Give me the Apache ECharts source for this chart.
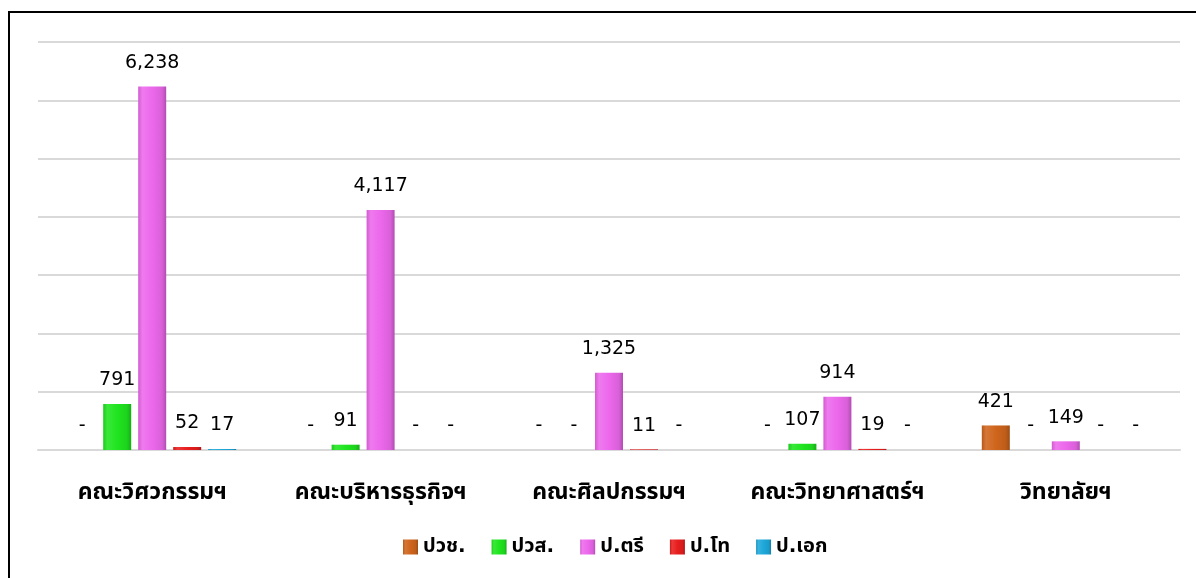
<!DOCTYPE html>
<html>
<head>
<meta charset="utf-8">
<script src="https://cdn.jsdelivr.net/npm/echarts@6/dist/echarts.min.js"></script>
<style>
  html, body { margin: 0; padding: 0; background: #fff; }
  #frame {
    position: absolute; left: 8px; top: 11px; width: 1200px; height: 580px;
    border-top: 2px solid #000; border-left: 2px solid #000;
  }
  #chart { position: absolute; left: 0; top: 0; width: 1196px; height: 578px; }
</style>
</head>
<body>
<div id="frame"></div>
<div id="chart"></div>
<script>
// หมวดหมู่ (คณะ)
const categories = ['คณะวิศวกรรมฯ', 'คณะบริหารธุรกิจฯ', 'คณะศิลปกรรมฯ', 'คณะวิทยาศาสตร์ฯ', 'วิทยาลัยฯ']
// ระดับการศึกษา
const levels = ['ปวช.', 'ปวส.', 'ป.ตรี', 'ป.โท', 'ป.เอก']
const vocCert = [0, 0, 0, 0, 421]
const highVoc = [791, 91, 0, 107, 0]
const bachelor = [6238, 4117, 1325, 914, 149]
const master = [52, 0, 11, 19, 0]
const doctoral = [17, 0, 0, 0, 0]
const seriesValues = [vocCert, highVoc, bachelor, master, doctoral]
const colors = ['#CF651C', '#1FE51F', '#EC68EC', '#E81E1E', '#1EA8DA']

const FONT = 'Tahoma, "DejaVu Sans", "Noto Sans Thai", "Noto Sans", sans-serif'

function shade (hex, f) {
  const n = parseInt(hex.slice(1), 16)
  let r = (n >> 16) & 255, g = (n >> 8) & 255, b = n & 255
  const t = f < 0 ? 0 : 255
  const p = Math.abs(f)
  r = Math.round((t - r) * p + r)
  g = Math.round((t - g) * p + g)
  b = Math.round((t - b) * p + b)
  return 'rgb(' + r + ',' + g + ',' + b + ')'
}

function bevel (c) {
  return new echarts.graphic.LinearGradient(0, 0, 1, 0, [
    { offset: 0, color: shade(c, -0.12) },
    { offset: 0.15, color: shade(c, 0.12) },
    { offset: 0.5, color: c },
    { offset: 0.85, color: shade(c, -0.08) },
    { offset: 1, color: shade(c, -0.25) }
  ])
}

const chartInstance = echarts.init(document.getElementById('chart'))
const option = {
  animation: false,
  color: colors,
  textStyle: { fontFamily: FONT },
  grid: { left: 38, right: 16, top: 42, bottom: 128 },
  legend: {
    bottom: 16,
    left: 398,
    icon: 'rect',
    itemWidth: 15,
    itemHeight: 15,
    itemGap: 26,
    textStyle: { fontSize: 20, fontWeight: 'bold', color: '#000', fontFamily: FONT },
    data: levels.map((name, i) => ({ name: name, itemStyle: { color: bevel(colors[i]) } }))
  },
  xAxis: {
    type: 'category',
    data: categories,
    axisTick: { show: false },
    axisLine: { lineStyle: { color: '#d9d9d9', width: 2 } },
    axisLabel: { margin: 32, fontSize: 23, fontWeight: 'bold', color: '#000', fontFamily: FONT }
  },
  yAxis: {
    type: 'value',
    min: 0,
    max: 7000,
    interval: 1000,
    axisLabel: { show: false },
    axisLine: { show: false },
    axisTick: { show: false },
    splitLine: { lineStyle: { color: '#d9d9d9', width: 2 } }
  },
  series: levels.map((name, i) => ({
    name: name,
    type: 'bar',
    data: seriesValues[i],
    barWidth: 28,
    barGap: '25%',
    itemStyle: { color: bevel(colors[i]) },
    label: {
      show: true,
      position: 'top',
      distance: 14,
      fontSize: 19,
      color: '#000',
      fontFamily: FONT,
      formatter: p => (p.value === 0 ? '-' : p.value.toLocaleString('en-US'))
    }
  }))
}
chartInstance.setOption(option)
</script>
</body>
</html>
